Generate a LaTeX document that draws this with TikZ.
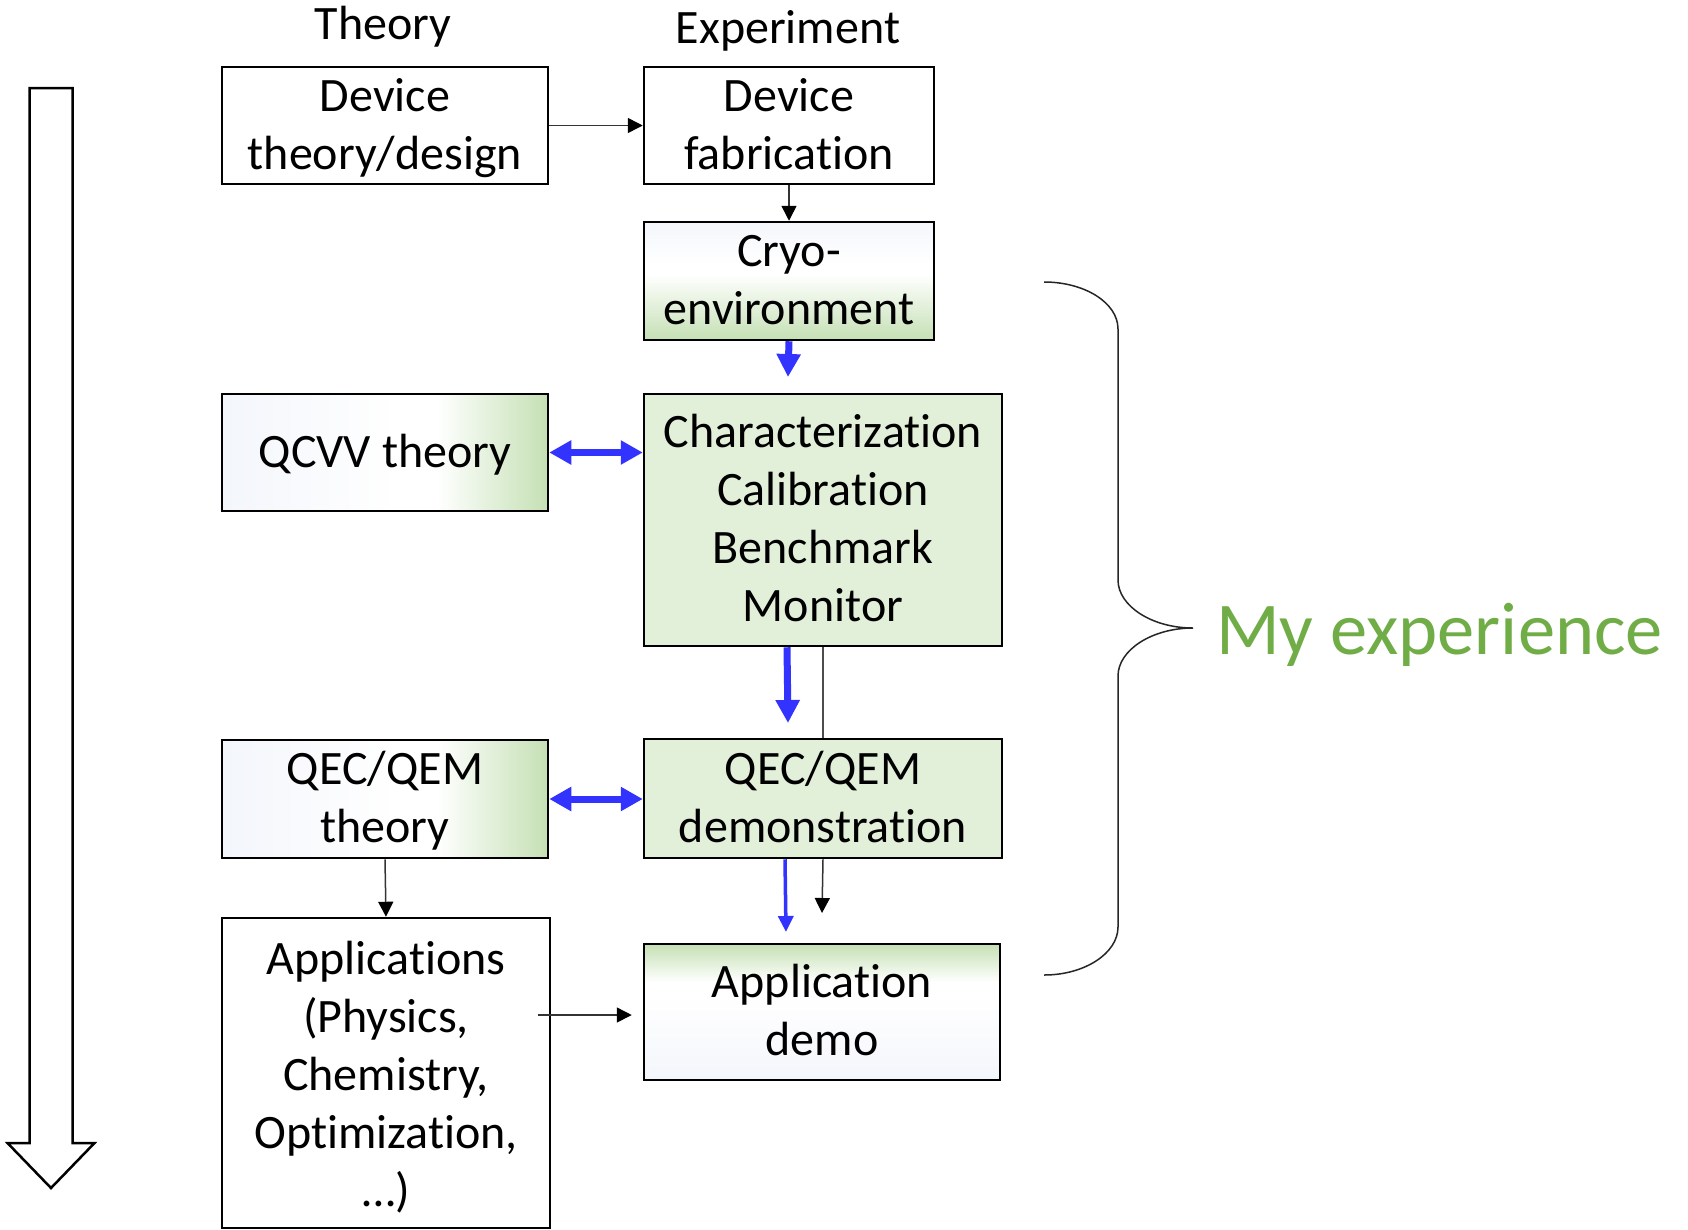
\documentclass[tikz,border=0pt]{standalone}
\usepackage{fontspec}
\setmainfont{Carlito}[RawFeature={-liga;-clig;-calt;-rlig;-dlig}]
\usetikzlibrary{arrows.meta,calc}
\definecolor{lb}{RGB}{243,246,251}
\definecolor{gr}{RGB}{197,224,180}
\definecolor{lg}{RGB}{226,239,217}
\definecolor{bl}{RGB}{51,51,255}
\definecolor{myg}{RGB}{112,173,71}
\pgfdeclarehorizontalshading{gradLR}{100bp}{color(0bp)=(lb); color(25bp)=(lb); color(52bp)=(white); color(58bp)=(white); color(75bp)=(gr); color(100bp)=(gr)}
\pgfdeclareverticalshading{gradC}{100bp}{color(0bp)=(gr); color(25bp)=(gr); color(53bp)=(white); color(57bp)=(white); color(75bp)=(lb); color(100bp)=(lb)}
\pgfdeclareverticalshading{gradI}{100bp}{color(0bp)=(lb); color(25bp)=(lb); color(56bp)=(white); color(61bp)=(white); color(75bp)=(gr); color(100bp)=(gr)}
\begin{document}
\begin{tikzpicture}[x=1pt,y=-1pt,
  txt/.style={font=\fontsize{48}{58}\selectfont},
  box/.style={txt, draw=black, line width=2.5pt, align=center, inner xsep=0pt, inner ysep=0pt},
  thinarr/.style={draw=black!80, line width=1.5pt, -{Triangle[length=15pt,width=15pt,color=black]}},
  thinline/.style={draw=black!70, line width=1.5pt},
  bluearr/.style={draw=bl, line width=7pt, -{Triangle[length=23pt,width=23pt]}},
  bluedbl/.style={draw=bl, line width=7pt, {Triangle[length=22pt,width=23pt]}-{Triangle[length=22pt,width=23pt]}},
  bluethin/.style={draw=bl, line width=3.5pt, -{Triangle[length=16pt,width=15pt]}}
]
\useasboundingbox (0,0) rectangle (1688,1229);
\clip (0,0) rectangle (1688,1229);
\fill[white] (0,0) rectangle (1688,1229);

% column labels
\node[txt, anchor=base] (theory) at (383,39) {Theory};
\node[txt, anchor=base] (experiment) at (788,43) {Experiment};

% boxes
\node[box, minimum width=326pt, text height=102pt, text depth=15pt] (A) at (385,125.5) {Device\\theory/design};
\node[box, minimum width=290pt, text height=102pt, text depth=15pt] (B) at (789,125.5) {Device\\fabrication};
\node[box, shade, shading=gradC, minimum width=290pt, text height=102.5pt, text depth=15.5pt] (C) at (789,281) {Cryo-\\environment};
\node[box, shade, shading=gradLR, minimum width=326pt, text height=73pt, text depth=44pt] (E) at (385,452.5) {QCVV theory};
\node[box, fill=lg, minimum width=358pt, text height=227.5pt, text depth=24.5pt] (D) at (823,520) {Characterization\\Calibration\\Benchmark\\Monitor};
\node[box, shade, shading=gradLR, minimum width=326pt, text height=102.5pt, text depth=15.5pt] (G) at (385,799) {QEC/QEM\\theory};
\node[box, fill=lg, minimum width=358pt, text height=103pt, text depth=16pt] (F) at (823,798.5) {QEC/QEM\\demonstration};
\node[box, minimum width=328pt, text height=288.5pt, text depth=21.5pt] (H) at (386,1073) {Applications\\(Physics,\\Chemistry,\\Optimization,\\…)};
\node[box, shade, shading=gradI, minimum width=356pt, text height=111.5pt, text depth=24.5pt] (I) at (822,1012) {Application\\demo};

% free ends
\coordinate (cdEnd) at (788,377);
\coordinate (dfEnd) at (788,723);
\coordinate (fiBlue) at (786,932);
\coordinate (fiBlack) at (822,913);

% connectors
\draw[thinarr] (A.east) -- (B.west);
\draw[thinarr] (B.south) -- (C.north);
\draw[bluearr] (C.south) -- (cdEnd);
\draw[bluedbl] (E.east) -- (D.west |- E.east);
\draw[bluearr] ([xshift=-36pt]D.south) -- (dfEnd);
\draw[thinline] (D.south) -- (F.north);
\draw[bluedbl] (G.east) -- (F.west |- G.east);
\draw[bluethin] ([xshift=-38pt]F.south) -- (fiBlue);
\draw[thinarr] (F.south) -- (fiBlack);
\draw[thinarr] (G.south) -- (H.north);
\draw[thinarr] ($(H.east |- I.west)+(-13,3)$) -- ($(I.west)+(-11,3)$);

% big hollow down arrow
\draw[line width=2.5pt, line join=miter, fill=white]
  (29.5,88) -- (72.5,88) -- (72.5,1143) -- (94.5,1143) -- (51,1188) -- (7.5,1143) -- (29.5,1143) -- cycle;

% brace
\draw[line width=1.5pt, black!85]
  (1044,282) .. controls (1085,282) and (1118,303) .. (1118,329)
  -- (1118,580) .. controls (1118,606) and (1152,628) .. (1193,628)
  .. controls (1152,628) and (1118,650) .. (1118,676)
  -- (1118,927) .. controls (1118,953) and (1085,975) .. (1044,975);
\node[font=\fontsize{74.5}{90}\selectfont, text=myg, anchor=base west, inner sep=0pt] (myexp) at (1216,654) {My experience};
\end{tikzpicture}
\end{document}
